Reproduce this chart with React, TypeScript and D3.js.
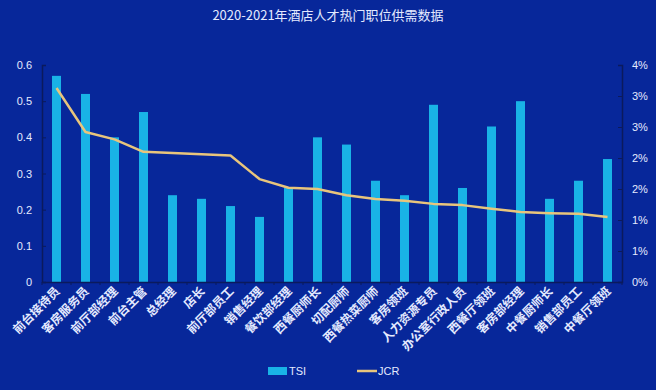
import React, { useRef, useEffect } from "react";
import * as d3 from "d3";

const categories = [
  "前台接待员", "客房服务员", "前厅部经理", "前台主管", "总经理",
  "店长", "前厅部员工", "销售经理", "餐饮部经理", "西餐厨师长",
  "切配厨师", "西餐热菜厨师", "客房领班", "人力资源专员", "办公室行政人员",
  "西餐厅领班", "客房部经理", "中餐厨师长", "销售部员工", "中餐厅领班",
];
const tsi = [0.57, 0.52, 0.4, 0.47, 0.24, 0.23, 0.21, 0.18, 0.26, 0.4, 0.38, 0.28, 0.24, 0.49, 0.26, 0.43, 0.5, 0.23, 0.28, 0.34];
const jcr = [0.0313, 0.0242, 0.023, 0.021, 0.0208, 0.0206, 0.0204, 0.0166, 0.0152, 0.015, 0.014, 0.0134, 0.0131, 0.0126, 0.0124, 0.0118, 0.0113, 0.0111, 0.011, 0.0105];
const leftTicks = [0, 0.1, 0.2, 0.3, 0.4, 0.5, 0.6];
const rightTicks = [0, 0.005, 0.01, 0.015, 0.02, 0.025, 0.03, 0.035];
const rightTickLabels = ["0%", "1%", "1%", "2%", "2%", "3%", "3%", "4%"];
const title = "2020-2021年酒店人才热门职位供需数据";

const W = 656, H = 390;
const margin = { top: 65, right: 34, bottom: 108, left: 42 };
const BG = "#07279a";
const BAR = "#19b3e6";
const LINE = "#e8c57c";
const AXIS = "#0b1a5c";
const TXT = "#e4eaff";
const FONT = "'Noto Sans CJK SC', 'Noto Sans', sans-serif";

export default () => {
  const ref = useRef<SVGSVGElement>(null);

  useEffect(() => {
    document.body.style.margin = "0";
    const svg = d3.select(ref.current);
    svg.selectAll("*").remove();
    const width = W - margin.left - margin.right;
    const height = H - margin.top - margin.bottom;

    svg.append("rect").attr("width", W).attr("height", H).attr("fill", BG);

    svg.append("text")
      .attr("x", W / 2).attr("y", 20)
      .attr("text-anchor", "middle")
      .attr("fill", TXT).attr("font-size", 13).attr("font-family", FONT)
      .text(title);

    const g = svg.append("g").attr("transform", `translate(${margin.left},${margin.top})`);

    const x = d3.scaleBand().domain(categories).range([0, width]).paddingInner(0.69).paddingOuter(0.345);
    const y = d3.scaleLinear().domain([0, 0.6]).range([height, 0]);
    const y2 = d3.scaleLinear().domain([0, 0.035]).range([height, 0]);

    // bars
    g.selectAll(".bar")
      .data(tsi)
      .enter()
      .append("rect")
      .attr("x", (d, i) => x(categories[i])!)
      .attr("y", d => y(d))
      .attr("width", x.bandwidth())
      .attr("height", d => height - y(d))
      .attr("fill", BAR);

    // line
    const line = d3.line<number>()
      .x((d, i) => x(categories[i])! + x.bandwidth() / 2)
      .y(d => y2(d));
    g.append("path")
      .datum(jcr)
      .attr("d", line)
      .attr("fill", "none")
      .attr("stroke", LINE)
      .attr("stroke-width", 2.5)
      .attr("stroke-linejoin", "round");

    // axes
    const left = g.append("g").call(
      d3.axisLeft(y).tickValues(leftTicks).tickSize(-4).tickPadding(10).tickFormat(d3.format("~g"))
    );
    const right = g.append("g").attr("transform", `translate(${width},0)`).call(
      d3.axisRight(y2).tickValues(rightTicks).tickSize(-4).tickPadding(10)
        .tickFormat((d, i) => rightTickLabels[i])
    );
    const bottom = g.append("g").attr("transform", `translate(0,${height})`).call(
      d3.axisBottom(x).tickSize(0).tickPadding(0).tickFormat(() => "")
    );
    [left, right, bottom].forEach(a => {
      a.select(".domain").attr("stroke", AXIS).attr("stroke-width", 1.5);
      a.selectAll("line").attr("stroke", AXIS);
      a.selectAll("text").attr("fill", TXT).attr("font-size", 11).attr("font-family", "'Liberation Sans', Arial, sans-serif");
    });

    // category boundary ticks
    g.selectAll(".xt")
      .data(d3.range(categories.length + 1))
      .enter()
      .append("line")
      .attr("x1", i => (width / categories.length) * i)
      .attr("x2", i => (width / categories.length) * i)
      .attr("y1", height).attr("y2", height + 3)
      .attr("stroke", AXIS);

    // rotated labels
    g.selectAll(".xl")
      .data(categories)
      .enter()
      .append("text")
      .attr("transform", d => `translate(${x(d)! + x.bandwidth() / 2 + 4},${height + 10}) rotate(-45)`)
      .attr("text-anchor", "end")
      .attr("fill", TXT)
      .attr("font-size", 12)
      .attr("font-weight", "bold")
      .attr("font-family", FONT)
      .text(d => d);

    // legend
    const lg = svg.append("g").attr("font-family", "'Liberation Sans', Arial, sans-serif").attr("font-size", 11);
    lg.append("rect").attr("x", 268).attr("y", 367).attr("width", 19).attr("height", 8).attr("fill", BAR);
    lg.append("text").attr("x", 289).attr("y", 375).attr("fill", TXT).text("TSI");
    lg.append("line").attr("x1", 357).attr("x2", 377).attr("y1", 371).attr("y2", 371)
      .attr("stroke", LINE).attr("stroke-width", 2.5);
    lg.append("text").attr("x", 378).attr("y", 375).attr("fill", TXT).text("JCR");
  }, []);

  return <svg ref={ref} width={W} height={H} style={{ display: "block" }} />;
};
